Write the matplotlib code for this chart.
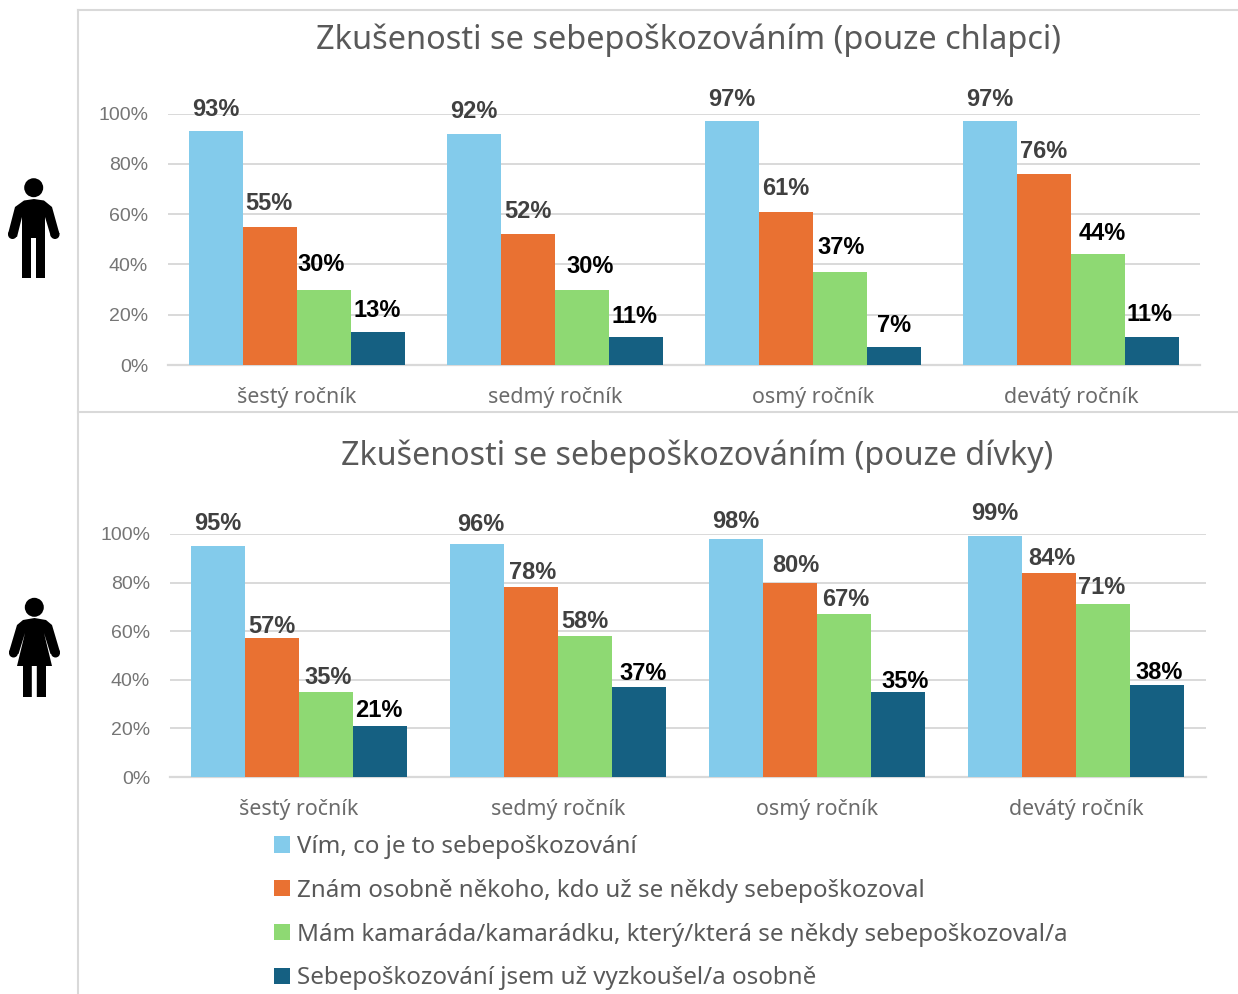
import matplotlib
matplotlib.use("Agg")
import matplotlib.pyplot as plt
import numpy as np
from matplotlib.patches import Circle, Polygon

W, H = 1238, 994

grades = ["šestý ročník", "sedmý ročník", "osmý ročník", "devátý ročník"]
series_names = ["Vím, co je to sebepoškozování",
                "Znám osobně někoho, kdo už se někdy sebepoškozoval",
                "Mám kamaráda/kamarádku, který/která se někdy sebepoškozoval/a",
                "Sebepoškozování jsem už vyzkoušel/a osobně"]
colors = ["#83CBEB", "#E97132", "#8ED973", "#156082"]

boys_know = [93, 92, 97, 97]
boys_someone = [55, 52, 61, 76]
boys_friend = [30, 30, 37, 44]
boys_self = [13, 11, 7, 11]

girls_know = [95, 96, 98, 99]
girls_someone = [57, 78, 80, 84]
girls_friend = [35, 58, 67, 71]
girls_self = [21, 37, 35, 38]

# posun popisku oproti sloupci v pixelech (dx, dy), radky = serie
boys_off = [[(0, 22), (0, 22), (0, 22), (0, 22)],
            [(-1, 23), (0, 23), (0, 23), (0, 22)],
            [(-2, 25), (8, 23), (1, 24), (4, 21)],
            [(0, 22), (-1, 21), (0, 22), (-2, 23)]]
girls_off = [[(0, 23), (4, 19), (0, 17), (0, 23)],
             [(0, 12), (2, 15), (6, 17), (3, 14)],
             [(2, 14), (0, 15), (2, 15), (-1, 17)],
             [(-1, 15), (4, 14), (7, 10), (2, 12)]]

GREY = "#404040"
boys_lab = [[GREY] * 4, [GREY] * 4, ["black"] * 4, ["black"] * 4]
girls_lab = [[GREY] * 4, [GREY] * 4, [GREY] * 4, ["black"] * 4]


def px_axes(x0, x1, y_top, y_bot):
    return fig.add_axes([x0 / W, 1 - y_bot / H, (x1 - x0) / W, (y_bot - y_top) / H])


def draw_chart(ax, data, offsets, lab_colors, title, title_x, title_y, title_size, bar_w):
    x = np.arange(len(grades))
    bars = []
    for i, vals in enumerate(data):
        b = ax.bar(x + (i - 1.5) * bar_w, np.array(vals) / 100, bar_w, color=colors[i], zorder=3)
        bars.append(b)
        for j, r in enumerate(b):
            ax.annotate(f"{vals[j]}%", (r.get_x() + r.get_width() / 2, r.get_height()),
                        xytext=(offsets[i][j][0] * 0.72, offsets[i][j][1] * 0.72),
                        textcoords="offset points", ha="center", va="center",
                        fontsize=17, fontweight="bold", family="Liberation Sans",
                        color=lab_colors[i][j], zorder=4, annotation_clip=False)
    ax.set_xlim(-0.5, 3.5)
    ax.set_ylim(0, 1)
    ax.set_yticks([0, .2, .4, .6, .8, 1])
    ax.set_yticklabels(["0%", "20%", "40%", "60%", "80%", "100%"],
                       family="Liberation Sans", fontsize=14, color="#757575")
    ax.set_xticks(x)
    ax.set_xticklabels(grades, family="Noto Sans", fontsize=15.4, color="#6b6b6b")
    ax.tick_params(length=0)
    ax.tick_params(axis="y", pad=14)
    ax.tick_params(axis="x", pad=15.5)
    ax.grid(axis="y", color="#d9d9d9", lw=1.4, zorder=0)
    ax.set_axisbelow(True)
    for s in ["top", "right", "left"]:
        ax.spines[s].set_visible(False)
    ax.spines["bottom"].set_color("#d9d9d9")
    ax.spines["bottom"].set_linewidth(1.6)
    fig.text(title_x / W, 1 - title_y / H, title, ha="center", va="center",
             family="Noto Sans", fontsize=title_size, color="#595959")
    return bars


fig = plt.figure(figsize=(W / 100, H / 100), dpi=100)

ax1 = px_axes(167.5, 1200, 113.5, 365)
bars = draw_chart(ax1, [boys_know, boys_someone, boys_friend, boys_self], boys_off, boys_lab,
                  "Zkušenosti se sebepoškozováním (pouze chlapci)", 689, 40, 23.4, 0.2093)
ax2 = px_axes(169.5, 1205.5, 534, 777)
draw_chart(ax2, [girls_know, girls_someone, girls_friend, girls_self], girls_off, girls_lab,
           "Zkušenosti se sebepoškozováním (pouze dívky)", 697, 456, 23.2, 0.2085)

fig.legend([b[0] for b in bars], series_names, loc="upper left",
           bbox_to_anchor=(274 / W, 1 - 835 / H), frameon=False, ncol=1,
           prop={"family": "Noto Sans", "size": 17.4}, labelcolor="#595959",
           handlelength=0.66, handleheight=0.66, handletextpad=0.29,
           labelspacing=0.82, borderpad=0, borderaxespad=0)

# ramecky panelu a ikonky, souradnice v pixelech
bg = fig.add_axes([0, 0, 1, 1], zorder=5)
bg.set_xlim(0, W)
bg.set_ylim(H, 0)
bg.axis("off")
bg.patch.set_alpha(0)
bg.plot([78, 78], [10, H], color="#d9d9d9", lw=1.5)
bg.plot([78, W], [10, 10], color="#d9d9d9", lw=1.5)
bg.plot([78, W], [412, 412], color="#d9d9d9", lw=1.5)

man = [(22, 278), (31, 278), (31, 238), (36, 238), (36, 278), (45, 278), (45, 217),
       (51, 237), (59.5, 234), (52, 207), (44, 200.5), (34, 199), (24, 200.5), (15, 207),
       (8, 234), (17, 237), (22, 217)]
woman = [(23, 697), (31.8, 697), (31.8, 666), (36.8, 666), (36.8, 697), (46, 697), (46, 666),
         (52, 666), (44, 633), (50.5, 654), (60, 652), (52, 625), (46, 620), (34.5, 618),
         (23, 620), (17, 625), (9, 652), (18.5, 654), (25, 633), (17, 666), (23, 666)]
bg.add_patch(Polygon(man, closed=True, color="black", lw=0))
bg.add_patch(Circle((33.7, 187.7), 9.5, color="black", lw=0))
bg.add_patch(Circle((12.5, 234.5), 4.5, color="black", lw=0))
bg.add_patch(Circle((55, 234.5), 4.5, color="black", lw=0))
bg.add_patch(Polygon(woman, closed=True, color="black", lw=0))
bg.add_patch(Circle((34.3, 607.3), 9.5, color="black", lw=0))
bg.add_patch(Circle((13.5, 653), 4.5, color="black", lw=0))
bg.add_patch(Circle((55.5, 653), 4.5, color="black", lw=0))

fig.savefig("out.png", dpi=100)
